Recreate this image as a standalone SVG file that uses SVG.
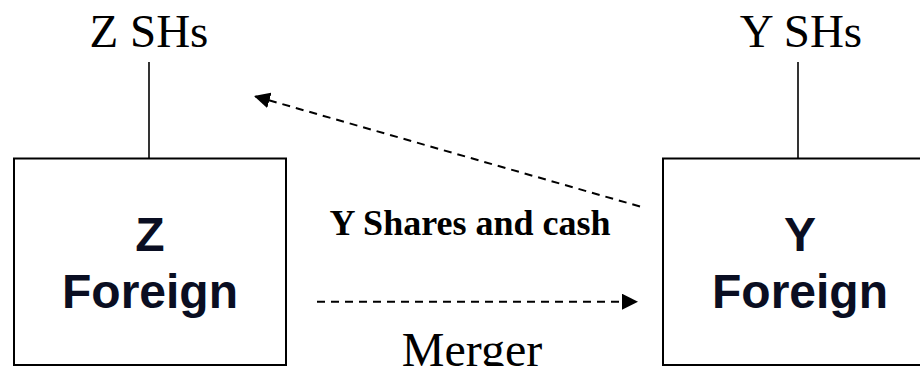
<svg xmlns="http://www.w3.org/2000/svg" width="920" height="366" viewBox="0 0 920 366">
<style>
.box{fill:#fff;stroke:#000;stroke-width:2}
.ln{stroke:#000;stroke-width:1.6;fill:none}
.dash{stroke:#000;stroke-width:2;fill:none;stroke-dasharray:8 6}
.sh{font-family:"Liberation Serif","Times New Roman",serif;font-size:47px;fill:#000;text-anchor:middle}
.bx{font-family:"Liberation Sans",Arial,sans-serif;font-weight:bold;font-size:48px;fill:#0a0e22;text-anchor:middle}
.lbl{font-family:"Liberation Serif","Times New Roman",serif;font-weight:bold;font-size:36px;fill:#000;text-anchor:middle}
.mg{font-family:"Liberation Serif","Times New Roman",serif;font-size:48px;fill:#000;text-anchor:middle}
</style>
<defs>
<marker id="ah" viewBox="0 0 16 16" refX="16" refY="8" markerWidth="16" markerHeight="16" markerUnits="userSpaceOnUse" orient="auto">
<path d="M0,0 L16,8 L0,16 Z" fill="#000"/>
</marker>
</defs>
<rect width="920" height="366" fill="#fff"/>
<g id="zsh">
<text class="sh" x="149" y="47">Z SHs</text>
</g>
<g id="ysh">
<text class="sh" x="801" y="47">Y SHs</text>
</g>
<g id="zforeign">
<rect class="box" x="14" y="158.5" width="272" height="206.5"/>
<text class="bx" x="150" y="251">Z</text>
<text class="bx" x="150" y="308">Foreign</text>
</g>
<g id="yforeign">
<rect class="box" x="663" y="158.5" width="274" height="206.5"/>
<text class="bx" x="800" y="251">Y</text>
<text class="bx" x="800" y="308">Foreign</text>
</g>
<g id="connectors">
<line class="ln" x1="149" y1="62" x2="149" y2="158"/>
<line class="ln" x1="798" y1="62" x2="798" y2="158"/>
<line class="dash" x1="640" y1="206.5" x2="254" y2="96" marker-end="url(#ah)"/>
<line class="dash" x1="317" y1="301.7" x2="638" y2="301.7" marker-end="url(#ah)"/>
</g>
<g id="labels">
<text class="lbl" x="470" y="235">Y Shares and cash</text>
<text class="mg" x="472" y="366">Merger</text>
</g>
</svg>
